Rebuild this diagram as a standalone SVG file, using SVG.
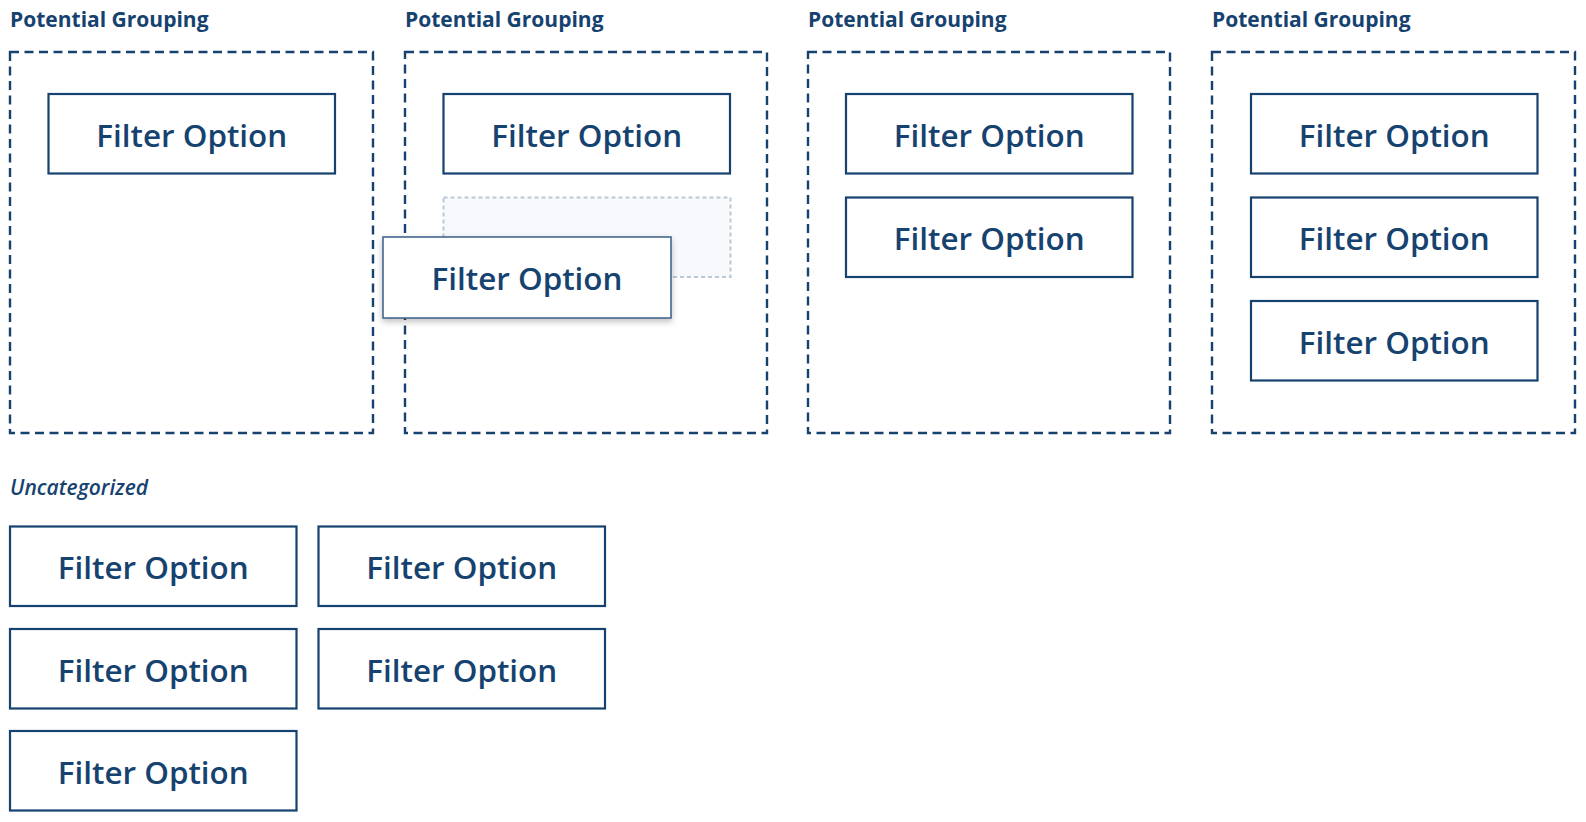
<svg xmlns="http://www.w3.org/2000/svg" width="1586" height="822" viewBox="0 0 1586 822">
<defs>
<style>
.grp{fill:none;stroke:#164270;stroke-width:2.4;stroke-dasharray:9 5.5}
.card{fill:#fff;stroke:#164270;stroke-width:2.2}
.lbl{font-family:"Open Sans","Noto Sans",sans-serif;font-size:31.4px;font-weight:600;fill:#164270;text-anchor:middle}
.ttl{font-family:"Open Sans","Noto Sans",sans-serif;font-size:21px;font-weight:700;fill:#164270}
.unc{font-family:"Open Sans","Noto Sans",sans-serif;font-size:21px;font-weight:600;font-style:italic;fill:#164270}
.ph{fill:#f8f9fc;stroke:#bcc7d4;stroke-width:2;stroke-dasharray:4 3}
</style>
<filter id="sh" x="-10%" y="-20%" width="130%" height="150%">
<feDropShadow dx="0" dy="3" stdDeviation="3" flood-color="#000" flood-opacity="0.25"/>
</filter>
</defs>
<g id="group1">
<text class="ttl" x="10" y="27">Potential Grouping</text>
<rect class="grp" x="10" y="52" width="363" height="381"/>
<g id="g1c1"><rect class="card" x="48.5" y="94" width="286.5" height="79.5"/><text class="lbl" x="191.75" y="146.5">Filter Option</text></g>
</g>
<g id="group2">
<text class="ttl" x="405" y="27">Potential Grouping</text>
<rect class="grp" x="405" y="52" width="362" height="381"/>
<g id="g2c1"><rect class="card" x="443.5" y="94" width="286.5" height="79.5"/><text class="lbl" x="586.75" y="146.5">Filter Option</text></g>
<rect id="g2placeholder" class="ph" x="443.5" y="197.5" width="287" height="79.5"/>
<g id="g2drag"><rect x="383" y="237" width="288" height="81" fill="#fff" stroke="#45678d" stroke-width="1.6" filter="url(#sh)"/><text class="lbl" x="527" y="290">Filter Option</text></g>
</g>
<g id="group3">
<text class="ttl" x="808" y="27">Potential Grouping</text>
<rect class="grp" x="808" y="52" width="362" height="381"/>
<g id="g3c1"><rect class="card" x="846" y="94" width="286.5" height="79.5"/><text class="lbl" x="989.25" y="146.5">Filter Option</text></g>
<g id="g3c2"><rect class="card" x="846" y="197.5" width="286.5" height="79.5"/><text class="lbl" x="989.25" y="250">Filter Option</text></g>
</g>
<g id="group4">
<text class="ttl" x="1212" y="27">Potential Grouping</text>
<rect class="grp" x="1212" y="52" width="363" height="381"/>
<g id="g4c1"><rect class="card" x="1251" y="94" width="286.5" height="79.5"/><text class="lbl" x="1394.25" y="146.5">Filter Option</text></g>
<g id="g4c2"><rect class="card" x="1251" y="197.5" width="286.5" height="79.5"/><text class="lbl" x="1394.25" y="250">Filter Option</text></g>
<g id="g4c3"><rect class="card" x="1251" y="301" width="286.5" height="79.5"/><text class="lbl" x="1394.25" y="353.5">Filter Option</text></g>
</g>
<g id="uncategorized">
<text class="unc" x="10" y="495">Uncategorized</text>
<g id="u1"><rect class="card" x="10" y="526.5" width="286.5" height="79.5"/><text class="lbl" x="153.25" y="579">Filter Option</text></g>
<g id="u2"><rect class="card" x="318.5" y="526.5" width="286.5" height="79.5"/><text class="lbl" x="461.75" y="579">Filter Option</text></g>
<g id="u3"><rect class="card" x="10" y="629" width="286.5" height="79.5"/><text class="lbl" x="153.25" y="681.5">Filter Option</text></g>
<g id="u4"><rect class="card" x="318.5" y="629" width="286.5" height="79.5"/><text class="lbl" x="461.75" y="681.5">Filter Option</text></g>
<g id="u5"><rect class="card" x="10" y="731" width="286.5" height="79.5"/><text class="lbl" x="153.25" y="783.5">Filter Option</text></g>
</g>
<g id="connectors"/>
</svg>
